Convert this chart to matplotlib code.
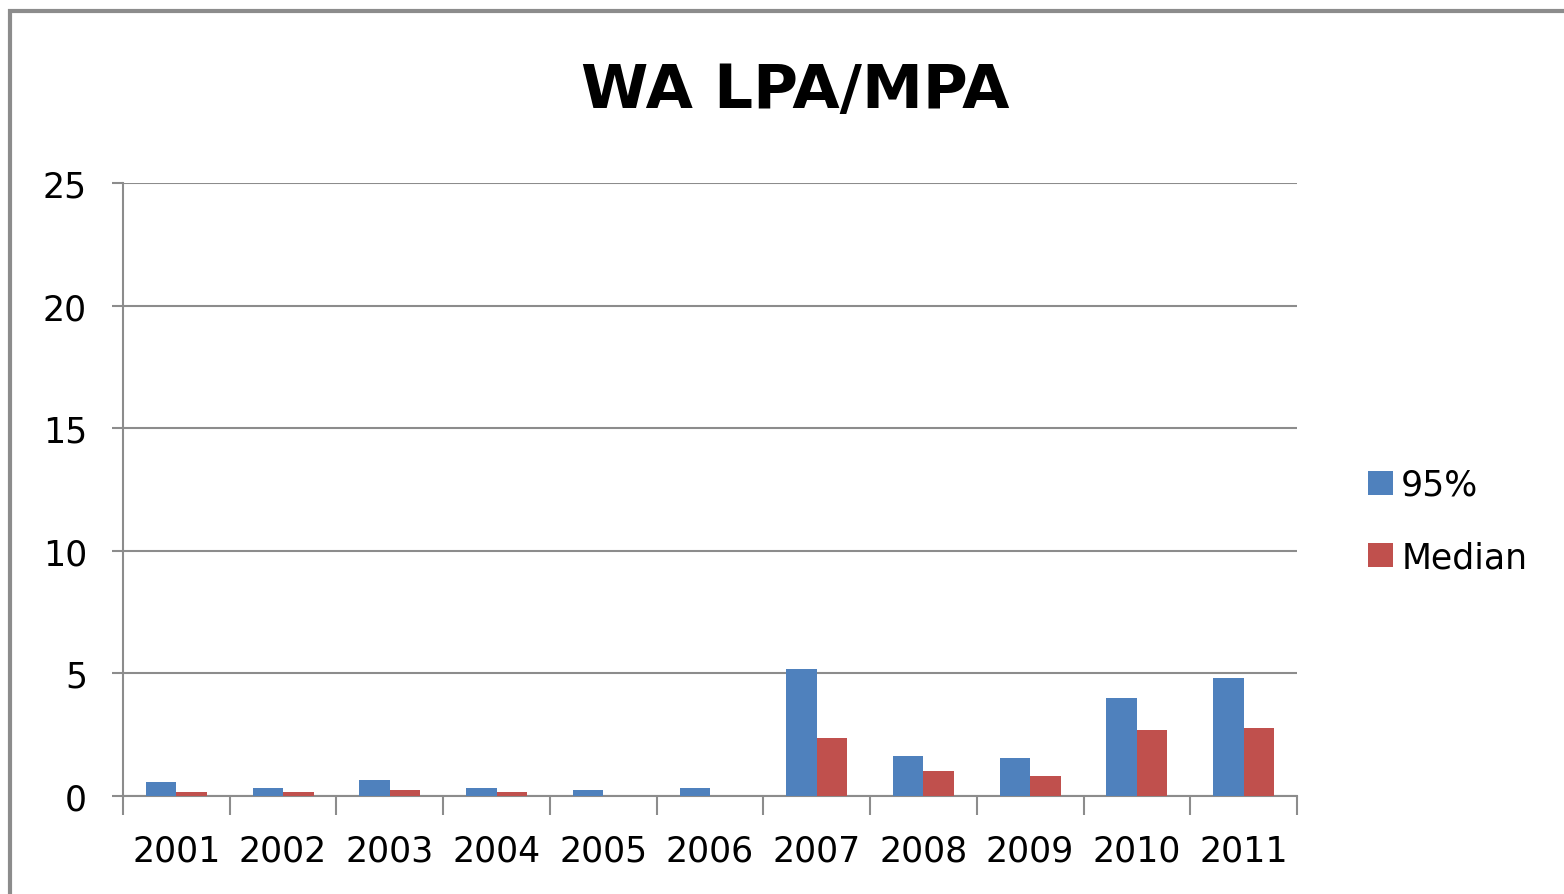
import numpy as np
import matplotlib.pyplot as plt
from matplotlib.patches import Rectangle

years = ['2001', '2002', '2003', '2004', '2005', '2006',
         '2007', '2008', '2009', '2010', '2011']
p95 = [0.59, 0.34, 0.67, 0.34, 0.26, 0.34, 5.18, 1.63, 1.57, 3.98, 4.80]
median = [0.18, 0.18, 0.26, 0.18, 0.0, 0.0, 2.36, 1.0, 0.83, 2.70, 2.77]

W, H = 1564, 895
fig = plt.figure(figsize=(W / 100, H / 100), dpi=100)
plt.rcParams['font.family'] = ['DejaVu Sans']

# outer chart frame (cut off at right and bottom like the screenshot)
fig.patches.append(Rectangle((10 / W, -0.1), 1.2, 1.1 - 12 / H, transform=fig.transFigure,
                             fill=False, edgecolor='#8c8c8c', linewidth=3))

ax = fig.add_axes([123 / W, 1 - 797 / H, (1297 - 123) / W, (797 - 184) / H])

x = np.arange(len(years))
bw = 1 / 3.5
ax.bar(x - bw / 2, p95, bw, color='#4f81bd', label='95%', zorder=3)
ax.bar(x + bw / 2, median, bw, color='#c0504d', label='Median', zorder=3)

ax.set_xlim(-0.5, len(years) - 0.5)
ax.set_ylim(0, 25)
ax.set_yticks([0, 5, 10, 15, 20, 25])
ax.yaxis.grid(True, color='#8c8c8c', linewidth=1.5, zorder=0)
ax.set_axisbelow(True)

ax.set_xticks(x)
ax.set_xticklabels(years)
ax.set_xticks(np.arange(-0.5, len(years)), minor=True)
ax.tick_params(axis='x', which='major', length=0, labelsize=25, pad=27)
ax.tick_params(axis='x', which='minor', length=14, width=1.5, color='#8c8c8c')
ax.tick_params(axis='y', length=8, width=1.5, color='#8c8c8c', labelsize=25, pad=18)

for s in ['top', 'right']:
    ax.spines[s].set_visible(False)
for s in ['left', 'bottom']:
    ax.spines[s].set_color('#8c8c8c')
    ax.spines[s].set_linewidth(1.5)

fig.text(795 / W, 1 - 92 / H, 'WA LPA/MPA', ha='center', va='center',
         fontsize=44, fontweight='bold')

fig.legend(loc='center left', bbox_to_anchor=(1337 / W, 1 - 522 / H), frameon=False,
           fontsize=25, handlelength=0.7, handleheight=0.7, handletextpad=0.25,
           labelspacing=1.1)

fig.savefig('out.png', dpi=100)
